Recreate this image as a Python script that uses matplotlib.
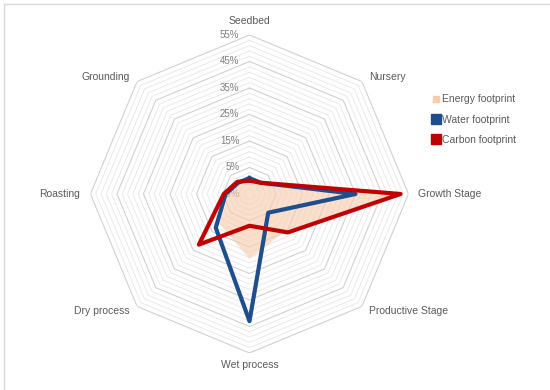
import numpy as np
import matplotlib
matplotlib.use('Agg')
import matplotlib.pyplot as plt
from matplotlib.lines import Line2D

# values (%)
categories = ['Seedbed', 'Nursery', 'Growth Stage', 'Productive Stage',
              'Wet process', 'Dry process', 'Roasting', 'Grounding']
energy = [0.0, 0.5, 50.0, 14.5, 19.5, 11.0, 3.0, 1.0]
water = [1.0, 1.0, 35.0, 5.0, 43.0, 13.0, 4.0, 1.0]
carbon = [0.0, 1.0, 52.0, 15.5, 7.0, 22.0, 4.7, 1.5]
r_ticks = [-5, 5, 15, 25, 35, 45, 55]
r_tick_labels = ['-5%', '5%', '15%', '25%', '35%', '45%', '55%']
series_names = ['Energy footprint', 'Water footprint', 'Carbon footprint']

plt.rcParams['font.family'] = ['Liberation Sans', 'DejaVu Sans']

ENERGY_C = '#f8cbad'
WATER_C = '#1f4e8c'
CARBON_C = '#c00000'
TEXT_C = '#595959'

n = len(categories)
theta = np.arange(n) * 2 * np.pi / n
theta_c = np.append(theta, theta[0])

def closed(vals):
    return np.append(vals, vals[0])

fig = plt.figure(figsize=(5.5, 3.9), dpi=100)
ax = fig.add_axes([0.1645, 0.0949, 0.5782, 0.8154], projection='polar')
ax.set_theta_offset(np.pi / 2)
ax.set_theta_direction(-1)
ax.set_ylim(-5, 55)
ax.grid(False)
ax.set_xticks([])
ax.set_yticks([])
ax.spines['polar'].set_visible(False)

# octagonal rings, every 2 %
for v in np.arange(-3, 56, 2):
    if v in r_ticks:
        ax.plot(theta_c, [v] * (n + 1), color='#d0d0d0', lw=0.8, zorder=0.5)
    else:
        ax.plot(theta_c, [v] * (n + 1), color='#e6e6e6', lw=0.6, zorder=0.5)

# radial tick labels along the top axis
for v, lab in zip(r_ticks, r_tick_labels):
    ax.annotate(lab, xy=(0, v), xytext=(-10, 0), textcoords='offset pixels',
                ha='right', va='center', fontsize=7, color='#808080', zorder=1)

ax.fill(theta_c, closed(energy), color=ENERGY_C, alpha=0.6, lw=0, zorder=2)
ax.plot(theta_c, closed(water), color=WATER_C, lw=3, zorder=3, clip_on=False)
ax.plot(theta_c, closed(carbon), color=CARBON_C, lw=3, zorder=4, clip_on=False)

# category labels around the octagon
offsets = [(0, 14, 'center'), (7, 5, 'left'), (10, 0, 'left'), (7, -5, 'left'),
           (0, -12, 'center'), (-7, -5, 'right'), (-10, 0, 'right'), (-7, 5, 'right')]
for t, lab, (dx, dy, ha) in zip(theta, categories, offsets):
    ax.annotate(lab, xy=(t, 55), xytext=(dx, dy), textcoords='offset pixels',
                ha=ha, va='center', fontsize=7.5, color=TEXT_C, annotation_clip=False)

handles = [Line2D([], [], marker='s', ls='none', color=ENERGY_C, markersize=4),
           Line2D([], [], marker='s', ls='none', color=WATER_C, markersize=7),
           Line2D([], [], marker='s', ls='none', color=CARBON_C, markersize=7)]
fig.legend(handles, series_names, loc='upper left', bbox_to_anchor=(428 / 550, 1 - 90 / 390),
           frameon=False, fontsize=7.5, handlelength=0.7, handletextpad=0.2,
           labelspacing=1.0, labelcolor=TEXT_C, borderaxespad=0)

# light frame (top and left edges visible)
fig.add_artist(Line2D([4 / 550, 1], [1 - 4 / 390, 1 - 4 / 390], color='#d9d9d9', lw=1))
fig.add_artist(Line2D([4 / 550, 4 / 550], [0, 1 - 4 / 390], color='#d9d9d9', lw=1))

fig.savefig('out.png', dpi=100)
